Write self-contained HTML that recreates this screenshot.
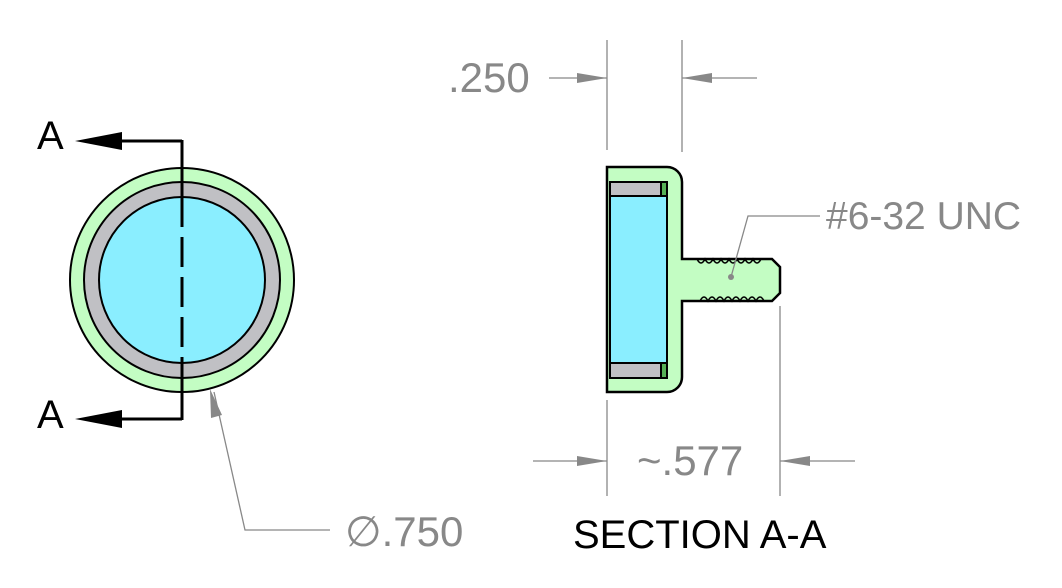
<!DOCTYPE html>
<html><head><style>html,body{margin:0;padding:0;background:#fff}svg{display:block}</style></head><body>
<svg width="1062" height="588" viewBox="0 0 1062 588" xmlns="http://www.w3.org/2000/svg" font-family="Liberation Sans, sans-serif">
<circle cx="182" cy="280" r="112" fill="#c3fdc3" stroke="#000" stroke-width="2"/>
<circle cx="182" cy="280" r="98" fill="#c0c0c4" stroke="#000" stroke-width="2"/>
<circle cx="182" cy="280" r="83" fill="#8aeeff" stroke="#000" stroke-width="2"/>
<line x1="182" y1="140" x2="182" y2="197" stroke="#000" stroke-width="3"/>
<line x1="182" y1="197" x2="182" y2="363" stroke="#000" stroke-width="3" stroke-dasharray="30,10"/>
<line x1="182" y1="363" x2="182" y2="420" stroke="#000" stroke-width="3"/>
<polyline points="182,141 120,141" fill="none" stroke="#000" stroke-width="3"/>
<polyline points="182,419 120,419" fill="none" stroke="#000" stroke-width="3"/>
<polygon points="75,141 122,132 122,150" fill="#000"/>
<polygon points="75,419 122,410 122,428" fill="#000"/>
<text x="37" y="149" font-size="40">A</text>
<text x="37" y="428" font-size="40">A</text>
<polyline points="214,392 245,530 330,530" fill="none" stroke="#888" stroke-width="1.3"/>
<polygon points="210,389 222,415 211,418" fill="#888"/>
<text x="345" y="546" font-size="42" fill="#888">∅.750</text>
<path d="M607,167 H667 A15,15 0 0 1 682,182 V259 H772 L780,267 V293 L772,301 H682 V377 A15,15 0 0 1 667,392 H607 Z" fill="#c3fdc3" stroke="#000" stroke-width="2.5"/>
<rect x="610" y="182" width="51" height="14" fill="#c0c0c4" stroke="#000" stroke-width="2"/>
<rect x="610" y="363" width="51" height="15" fill="#c0c0c4" stroke="#000" stroke-width="2"/>
<rect x="661" y="182" width="6" height="196" fill="#55b055" stroke="#000" stroke-width="2"/>
<rect x="610" y="196" width="57" height="167" fill="#8aeeff" stroke="#000" stroke-width="2"/>
<path d="M697,259 q4,8 8,0 q4,8 8,0 q4,8 8,0 q4,8 8,0 q4,8 8,0 q4,8 8,0 q4,8 8,0 q4,8 8,0" fill="none" stroke="#000" stroke-width="1.5"/>
<path d="M700,301 q4,-8 8,0 q4,-8 8,0 q4,-8 8,0 q4,-8 8,0 q4,-8 8,0 q4,-8 8,0 q4,-8 8,0 q4,-8 8,0" fill="none" stroke="#000" stroke-width="1.5"/>
<polyline points="731,277 748,216 820,216" fill="none" stroke="#888" stroke-width="1.3"/>
<circle cx="731" cy="277" r="3" fill="#888"/>
<text x="826" y="229" font-size="39" fill="#888">#6-32 UNC</text>
<line x1="607" y1="40" x2="607" y2="150" stroke="#888" stroke-width="1.3"/>
<line x1="682" y1="40" x2="682" y2="152" stroke="#888" stroke-width="1.3"/>
<line x1="549" y1="78" x2="607" y2="78" stroke="#888" stroke-width="1.3"/>
<line x1="682" y1="78" x2="757" y2="78" stroke="#888" stroke-width="1.3"/>
<polygon points="607,78 577,73 577,83" fill="#888"/>
<polygon points="682,78 712,73 712,83" fill="#888"/>
<text x="448" y="92" font-size="42" fill="#888">.250</text>
<line x1="607" y1="400" x2="607" y2="496" stroke="#888" stroke-width="1.3"/>
<line x1="780" y1="306" x2="780" y2="496" stroke="#888" stroke-width="1.3"/>
<line x1="533" y1="461" x2="607" y2="461" stroke="#888" stroke-width="1.3"/>
<line x1="780" y1="461" x2="855" y2="461" stroke="#888" stroke-width="1.3"/>
<polygon points="607,461 577,456 577,466" fill="#888"/>
<polygon points="780,461 810,456 810,466" fill="#888"/>
<text x="637" y="475" font-size="42" fill="#888">~.577</text>
<text x="573" y="548" font-size="40" fill="#000">SECTION A-A</text>
</svg>
</body></html>
